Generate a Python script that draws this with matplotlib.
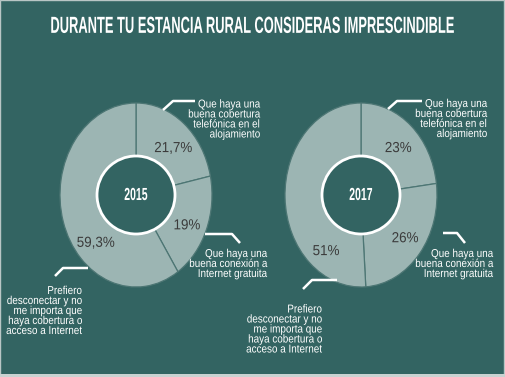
import matplotlib
matplotlib.use('Agg')
import matplotlib.pyplot as plt
from matplotlib import patheffects
from matplotlib.patches import Ellipse, Rectangle
from matplotlib.transforms import Affine2D

title = 'DURANTE TU ESTANCIA RURAL CONSIDERAS IMPRESCINDIBLE'
years = ['2015', '2017']
categories = ['Que haya una\nbuena cobertura\ntelefónica en el\nalojamiento',
              'Que haya una\nbuena conexión a\nInternet gratuita',
              'Prefiero\ndesconectar y no\nme importa que\nhaya cobertura o\nacceso a Internet']
values_2015 = [21.7, 19, 59.3]
values_2017 = [23, 26, 51]

BG = '#336462'
FILL = '#9cb5b3'
DIV = '#4d7674'
PCT = '#3b3b3b'
FONT = 'Liberation Sans'

W, H = 505, 377


class Stretch(patheffects.AbstractPathEffect):
    # rescale glyph outlines to mimic the condensed face of the original
    def __init__(self, sx=1.0, sy=1.0, xref='center', yref='center'):
        super().__init__()
        self.sx, self.sy = sx, sy
        self.xref, self.yref = xref, yref

    def draw_path(self, renderer, gc, tpath, affine, rgbFace=None):
        v = tpath.vertices
        if self.xref == 'right':
            cx = v[:, 0].max()
        else:
            cx = (v[:, 0].min() + v[:, 0].max()) / 2
        cy = 0 if self.yref == 'base' else (v[:, 1].min() + v[:, 1].max()) / 2
        t = Affine2D().translate(-cx, -cy).scale(self.sx, self.sy).translate(cx, cy)
        renderer.draw_path(gc, tpath, t + affine, rgbFace)


def fmt(v):
    if v == int(v):
        return '%d%%' % v
    return ('%.1f%%' % v).replace('.', ',')


fig = plt.figure(figsize=(W / 100, H / 100), dpi=100)
fig.patch.set_facecolor(BG)

# donut boxes in pixels: left, top, right, bottom
boxes = [(60, 103, 212, 287), (285, 103, 437, 287)]
hole = (39 / 76, 39 / 92)
pct_pos = [[(0.49, 0.51), (0.67, -0.33), (-0.53, -0.52)],
           [(0.49, 0.51), (0.58, -0.47), (-0.46, -0.61)]]

for (l, t, r, b), vals, year, pos in zip(boxes, [values_2015, values_2017], years, pct_pos):
    ax = fig.add_axes([l / W, 1 - b / H, (r - l) / W, (b - t) / H])
    ax.pie(vals, startangle=90, counterclock=False, colors=[FILL] * len(vals),
           wedgeprops=dict(edgecolor=DIV, linewidth=0.9))
    ax.set_aspect('auto')
    ax.set_xlim(-1, 1)
    ax.set_ylim(-1, 1)
    ax.axis('off')
    ax.add_patch(Ellipse((0, 0), 2 * hole[0], 2 * hole[1], facecolor=BG,
                         edgecolor='white', linewidth=2, zorder=5))
    ax.text(0, 0, year, ha='center', va='center', color='white', fontsize=10.5,
            fontweight='bold', family=FONT, zorder=6,
            path_effects=[Stretch(0.72, 1.2)])
    for v, (px, py) in zip(vals, pos):
        ax.text(px, py, fmt(v), ha='center', va='center', color=PCT,
                fontsize=10.5, family=FONT, zorder=6,
                path_effects=[Stretch(0.92, 1.0)])

over = fig.add_axes([0, 0, 1, 1], zorder=10)
over.set_xlim(0, W)
over.set_ylim(H, 0)
over.axis('off')
over.patch.set_alpha(0)

over.text(252, 26, title, ha='center', va='center', color='white', fontsize=10.8,
          fontweight='bold', family=FONT, path_effects=[Stretch(0.86, 1.55)])

# callouts: text anchor (right edge, block centre) and leader line
label_pos = [[(260, 118.5), (267, 263), (82, 310)],
             [(487, 118), (493, 263), (322, 328.5)]]
leaders = [[[(163, 110), (173, 101), (195, 101)],
            [(205, 234), (232, 234), (240, 243)],
            [(88, 268), (63, 268), (55, 276)]],
           [[(388, 109), (397, 101), (422, 101)],
            [(443, 233), (457, 233), (465, 243)],
            [(337, 280), (312, 280), (303, 289)]]]

for k in range(len(years)):
    for cat, (x, y), pts in zip(categories, label_pos[k], leaders[k]):
        over.text(x, y + 1, cat, ha='right', va='center', multialignment='right',
                  color='white', fontsize=7.5, family=FONT, linespacing=1.0,
                  path_effects=[Stretch(0.95, 1.1, xref='right', yref='base')])
        xs, ys = zip(*pts)
        over.plot(xs, ys, color='white', linewidth=1.8, solid_capstyle='butt')

# thin light frame along the edges
over.add_patch(Rectangle((0, 0), W - 1, H - 2, fill=False, edgecolor='#b9c6c5', linewidth=1))
over.add_patch(Rectangle((0, H - 3), W, 3, facecolor='#c9d2d1', edgecolor='none'))

fig.savefig('out.png', dpi=100, facecolor=BG)
